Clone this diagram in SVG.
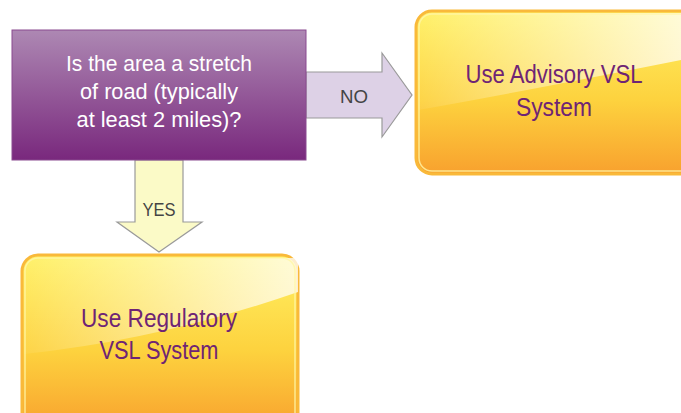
<svg xmlns="http://www.w3.org/2000/svg" width="681" height="413" viewBox="0 0 681 413">
<defs>
<linearGradient id="gPurple" x1="0" y1="0" x2="0" y2="1">
<stop offset="0" stop-color="#ad88b3"/>
<stop offset="1" stop-color="#79287d"/>
</linearGradient>
<linearGradient id="gYellow" x1="0" y1="0" x2="0" y2="1">
<stop offset="0" stop-color="#fff163"/>
<stop offset="0.55" stop-color="#fdd23e"/>
<stop offset="1" stop-color="#f8a12e"/>
</linearGradient>
<linearGradient id="gGloss" x1="0" y1="0" x2="1" y2="0">
<stop offset="0" stop-color="#ffffff" stop-opacity="0.05"/>
<stop offset="1" stop-color="#ffffff" stop-opacity="0.75"/>
</linearGradient>
<style>
.q{font-family:"Liberation Sans",Arial,sans-serif;fill:#ffffff;font-size:22.5px;text-anchor:middle}
.r{font-family:"Liberation Sans",Arial,sans-serif;fill:#6e2475;font-size:26px;text-anchor:middle}
.l{font-family:"Liberation Sans",Arial,sans-serif;fill:#444444;font-size:19px;text-anchor:middle}
.box{fill:url(#gYellow);stroke:#f9b93a;stroke-width:3}
.inner{fill:none;stroke:#fff6a8;stroke-width:1.5;opacity:0.8}
.arrow{stroke:#9a9a9a;stroke-width:1.2}
</style>
</defs>
<g id="connectors">
<g id="no-arrow">
<path class="arrow" d="M306,72 H382 V53 L412,95 L382,137 V118 H306 Z" fill="#ddd1e6"/>
<text class="l" x="354" y="103" textLength="28" lengthAdjust="spacingAndGlyphs">NO</text>
</g>
<g id="yes-arrow">
<path class="arrow" d="M135,160 V222 H117 L159,252 L202,222 H183 V160 Z" fill="#fbfac7"/>
<text class="l" x="159" y="216" textLength="33" lengthAdjust="spacingAndGlyphs">YES</text>
</g>
</g>
<g id="question">
<rect x="12" y="30" width="294" height="130" fill="url(#gPurple)" stroke="#8a4a90" stroke-width="1"/>
<text class="q" x="159" y="71" textLength="186" lengthAdjust="spacingAndGlyphs">Is the area a stretch</text>
<text class="q" x="159" y="99" textLength="158" lengthAdjust="spacingAndGlyphs">of road (typically</text>
<text class="q" x="159" y="127" textLength="165" lengthAdjust="spacingAndGlyphs">at least 2 miles)?</text>
</g>
<g id="advisory">
<rect class="box" x="416" y="11" width="290" height="163" rx="16"/>
<path d="M418,110 Q520,92 681,60 V13 H430 Q418,13 418,28 Z" fill="url(#gGloss)"/>
<rect class="inner" x="419" y="14" width="284" height="157" rx="13"/>
<text class="r" x="554" y="83" textLength="177" lengthAdjust="spacingAndGlyphs">Use Advisory VSL</text>
<text class="r" x="554" y="116" textLength="76" lengthAdjust="spacingAndGlyphs">System</text>
</g>
<g id="regulatory">
<rect class="box" x="22" y="255" width="276" height="175" rx="16"/>
<path d="M24,354 Q160,340 298,292 V258 H38 Q24,258 24,272 Z" fill="url(#gGloss)"/>
<rect class="inner" x="25" y="258" width="270" height="170" rx="13"/>
<text class="r" x="159" y="327" textLength="156" lengthAdjust="spacingAndGlyphs">Use Regulatory</text>
<text class="r" x="159" y="359" textLength="119" lengthAdjust="spacingAndGlyphs">VSL System</text>
</g>
</svg>
